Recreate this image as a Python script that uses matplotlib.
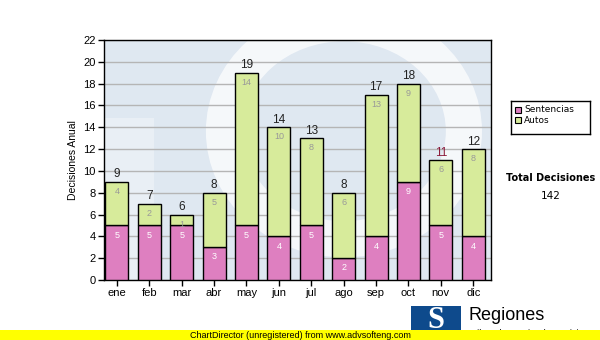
import matplotlib
matplotlib.use("Agg")
import matplotlib.pyplot as plt
from matplotlib.patches import Rectangle, Ellipse

# data
meses = ['ene', 'feb', 'mar', 'abr', 'may', 'jun', 'jul', 'ago', 'sep', 'oct', 'nov', 'dic']
sentencias = [5, 5, 5, 3, 5, 4, 5, 2, 4, 9, 5, 4]
autos = [4, 2, 1, 5, 14, 10, 8, 6, 13, 9, 6, 8]
totales = [s + a for s, a in zip(sentencias, autos)]

COL_SENT = '#de7fc0'
COL_AUTO = '#d7eb9b'

plt.rcParams['font.family'] = ['Liberation Sans', 'DejaVu Sans']

fig = plt.figure(figsize=(6.0, 3.4), dpi=100)
ax = fig.add_axes([104 / 600, 1 - 280 / 340, 387 / 600, 240 / 340])
ax.set_facecolor('#dfe8f1')

# faint watermark shapes (approximate)
ax.add_patch(Ellipse((0.62, 0.62), 0.62, 0.9, transform=ax.transAxes,
                     fill=False, ec='white', lw=26, alpha=0.7, zorder=0))
ax.add_patch(Rectangle((0.0, 0.0), 0.13, 0.675, transform=ax.transAxes,
                       fc='#e9eff5', ec='none', zorder=0))

x = list(range(len(meses)))
ax.bar(x, sentencias, width=0.71, color=COL_SENT, edgecolor='black', lw=1, zorder=3)
ax.bar(x, autos, width=0.71, bottom=sentencias, color=COL_AUTO, edgecolor='black', lw=1, zorder=3)

for i in x:
    ax.annotate(str(sentencias[i]), (i, sentencias[i]), xytext=(0, -7), textcoords='offset points',
                ha='center', va='center', fontsize=6.5, color='white', zorder=4)
    ax.annotate(str(autos[i]), (i, totales[i]), xytext=(0, -7), textcoords='offset points',
                ha='center', va='center', fontsize=6.5, color='#999999', zorder=4)
    ax.annotate(str(totales[i]), (i, totales[i]), xytext=(0, 1), textcoords='offset points',
                ha='center', va='bottom', fontsize=8.5, color='#222222' if i != 10 else '#8b1a3a', zorder=4)

ax.set_xlim(-0.4, 11.55)
ax.set_ylim(0, 22)
ax.set_yticks(range(0, 23, 2))
ax.set_xticks(x)
ax.set_xticklabels(meses)
ax.tick_params(labelsize=8, length=4, width=1, direction='out', pad=2)
ax.yaxis.grid(True, color='#b5b5b5', lw=1, zorder=1)
ax.set_axisbelow(True)
for s in ax.spines.values():
    s.set_color('black')
    s.set_linewidth(1)
ax.set_ylabel('Decisiones Anual', fontsize=7.5, labelpad=4)

# legend box
leg_ax = fig.add_axes([511 / 600, 1 - 134 / 340, 79 / 600, 33 / 340])
leg_ax.set_xlim(0, 79)
leg_ax.set_ylim(33, 0)
leg_ax.set_xticks([])
leg_ax.set_yticks([])
for s in leg_ax.spines.values():
    s.set_linewidth(1)
leg_ax.add_patch(Rectangle((4, 6), 6, 6, fc=COL_SENT, ec='black', lw=0.8))
leg_ax.add_patch(Rectangle((4, 16.5), 6, 6, fc=COL_AUTO, ec='black', lw=0.8))
leg_ax.text(13, 9, 'Sentencias', fontsize=6.5, va='center', family='DejaVu Sans')
leg_ax.text(13, 19.5, 'Autos', fontsize=6.5, va='center', family='DejaVu Sans')

fig.text(551 / 600, 1 - 178 / 340, 'Total Decisiones', ha='center', va='center',
         fontsize=7, fontweight='bold', family='DejaVu Sans')
fig.text(551 / 600, 1 - 196 / 340, str(sum(totales)), ha='center', va='center',
         fontsize=7.5, family='DejaVu Sans')

# logo
fig.patches.append(Rectangle((411 / 600, 1 - 338 / 340), 50 / 600, 32 / 340,
                             transform=fig.transFigure, fc='#0e4a8c', ec='none'))
fig.text(436 / 600, 1 - 321 / 340, 'S', ha='center', va='center', fontsize=22,
         fontweight='bold', color='white', family='Liberation Serif')
fig.text(469 / 600, 1 - 316 / 340, 'Regiones', ha='left', va='center', fontsize=13)
fig.text(469 / 600, 1 - 333 / 340, 'Tribunal Superior de Justicia', ha='left', va='center', fontsize=6.5)

# unregistered band
fig.patches.append(Rectangle((0, 0), 1, 10 / 340, transform=fig.transFigure,
                             fc='#ffff00', ec='none', zorder=5))
fig.text(190 / 600, 5 / 340, 'ChartDirector (unregistered) from www.advsofteng.com',
         ha='left', va='center', fontsize=6.5, zorder=6)

fig.savefig('out.png', dpi=100)
